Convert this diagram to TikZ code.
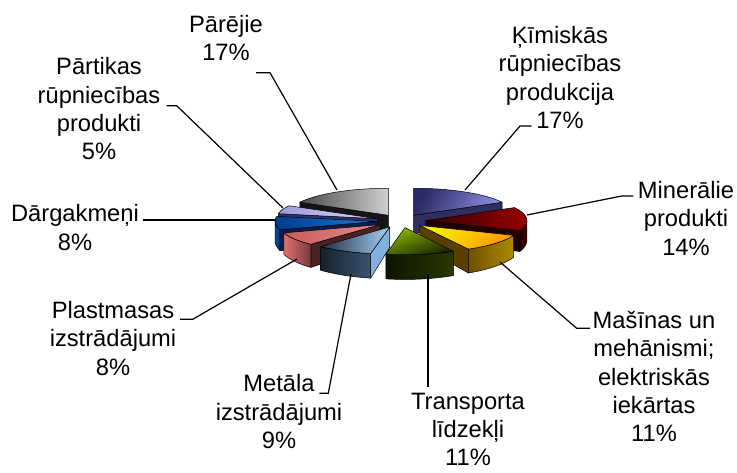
\documentclass[tikz,border=0pt]{standalone}
\usepackage{fontspec}
\setmainfont{Liberation Sans}
\definecolor{kimA}{HTML}{2B2B66}\definecolor{kimB}{HTML}{8C8CE0}\definecolor{kimS}{HTML}{3A3A70}\definecolor{kimR}{HTML}{2E2E60}
\definecolor{parA}{HTML}{4A4A4A}\definecolor{parB}{HTML}{CFCFCF}\definecolor{parS}{HTML}{1A1A1A}\definecolor{parR}{HTML}{151515}
\definecolor{ptkA}{HTML}{9A9AD8}\definecolor{ptkB}{HTML}{DADAFF}\definecolor{ptkS}{HTML}{505090}\definecolor{ptkR}{HTML}{303070}
\definecolor{minA}{HTML}{3A0000}\definecolor{minB}{HTML}{960000}\definecolor{minS}{HTML}{120000}\definecolor{minT}{HTML}{5A0000}\definecolor{minR}{HTML}{200000}
\definecolor{darA}{HTML}{003C8C}\definecolor{darB}{HTML}{1A7AE0}\definecolor{darS}{HTML}{0058B8}\definecolor{darT}{HTML}{002A66}\definecolor{darR}{HTML}{002050}
\definecolor{plaA}{HTML}{C85C5C}\definecolor{plaB}{HTML}{E88A8A}\definecolor{plaS}{HTML}{E07070}\definecolor{plaT}{HTML}{7A3A3A}\definecolor{plaR}{HTML}{4A2222}
\definecolor{masA}{HTML}{F8F000}\definecolor{masB}{HTML}{FF9900}\definecolor{masS}{HTML}{6E5000}\definecolor{masT}{HTML}{B08A00}\definecolor{masR}{HTML}{5A4000}
\definecolor{metA}{HTML}{1E2C44}\definecolor{metB}{HTML}{A8D0F5}\definecolor{metS}{HTML}{15202E}\definecolor{metT}{HTML}{3A5570}\definecolor{metR}{HTML}{7FB0E0}
\definecolor{traA}{HTML}{88B800}\definecolor{traB}{HTML}{1A2200}\definecolor{traS}{HTML}{0E1400}\definecolor{traT}{HTML}{2A3800}\definecolor{traR}{HTML}{1A2200}
\begin{document}
\begin{tikzpicture}[x=1pt,y=-1pt,
  face/.style={draw=black, line width=0.5pt, line join=round},
  lbl/.style={font=\fontsize{23.7}{28.3}\selectfont, align=center, inner sep=0pt, anchor=north},
  leader/.style={draw=black, line width=1.2pt}]
\useasboundingbox (0,0) rectangle (737,472);
\fill[white] (0,0) rectangle (737,472);
\def\pieR{101}\def\pier{27}\def\pieE{25}\def\pcx{401}\def\pcy{221}
% bottom of a side wall: y' = 1.16 y - 15.92 (deeper towards the front)
\foreach \aS/\aE/\cTa/\cTb/\ang/\cSa/\cSb/\cR in {
  28.8/90/kimA/kimB/60/kimS/kimS/kimR,
  -270/-208.8/parA/parB/90/parS/parS/parR,
  -208.8/-190.8/ptkA/ptkB/90/ptkS/ptkS/ptkR,
  -21.6/28.8/minA/minB/90/minS/minT/minR,
  -190.8/-162/darA/darB/90/darS/darT/darR,
  -162/-133.2/plaA/plaB/90/plaS/plaT/plaR,
  -61.2/-21.6/masA/masB/45/masS/masT/masR,
  -133.2/-100.8/metA/metB/90/metS/metT/metR,
  -100.8/-61.2/traA/traB/20/traS/traT/traR}{
  \pgfmathsetmacro\bis{(\aS+\aE)/2}
  \pgfmathsetmacro\ox{\pcx+\pieE*cos(\bis)}
  \pgfmathsetmacro\oy{\pcy-\pieE*\pier/\pieR*sin(\bis)}
  \pgfmathsetmacro\oyb{1.16*\oy-15.92}
  \pgfmathsetmacro\xs{\ox+\pieR*cos(\aS)}
  \pgfmathsetmacro\ys{\oy-\pier*sin(\aS)}
  \pgfmathsetmacro\ysb{1.16*\ys-15.92}
  \pgfmathsetmacro\xt{\ox+\pieR*cos(\aE)}
  \pgfmathsetmacro\yt{\oy-\pier*sin(\aE)}
  \pgfmathsetmacro\ytb{1.16*\yt-15.92}
  \pgfmathtruncatemacro\vs{cos(\aS)>0.001 ? 1 : 0}
  \pgfmathtruncatemacro\vt{cos(\aE)<-0.001 ? 1 : 0}
  \pgfmathsetmacro\fa{max(\aS,-180)}
  \pgfmathsetmacro\fb{min(\aE,0)}
  \pgfmathtruncatemacro\vf{\fb>\fa+0.01 ? 1 : 0}
  \ifnum\vs=1
    \path[face, fill=\cR] ({\ox},{\oy}) -- ({\xs},{\ys}) -- ({\xs},{\ysb}) -- ({\ox},{\oyb}) -- cycle;
  \fi
  \ifnum\vt=1
    \path[face, fill=\cR] ({\ox},{\oy}) -- ({\xt},{\yt}) -- ({\xt},{\ytb}) -- ({\ox},{\oyb}) -- cycle;
  \fi
  \ifnum\vf=1
    \path[face, left color=\cSa, right color=\cSb]
      plot[domain=\fa:\fb, samples=30] ({\ox+\pieR*cos(\x)},{\oy-\pier*sin(\x)})
      -- plot[domain=\fb:\fa, samples=30] ({\ox+\pieR*cos(\x)},{1.16*(\oy-\pier*sin(\x))-15.92}) -- cycle;
  \fi
  \path[face, top color=\cTa, bottom color=\cTb, shading angle=\ang]
    ({\ox},{\oy}) -- plot[domain=\aS:\aE, samples=30] ({\ox+\pieR*cos(\x)},{\oy-\pier*sin(\x)}) -- cycle;
}
\node[lbl] (parejie) at (226,12.5) {\strut Pārējie\\\strut 17\%};
\node[lbl] (partikas) at (99,54.7) {\strut Pārtikas\\\strut rūpniecības\\\strut produkti\\\strut 5\%};
\node[lbl] (dargakmeni) at (75,201.9) {\strut Dārgakmeņi\\\strut 8\%};
\node[lbl] (plastmasas) at (113,298.5) {\strut Plastmasas\\\strut izstrādājumi\\\strut 8\%};
\node[lbl] (metala) at (279,371.9) {\strut Metāla\\\strut izstrādājumi\\\strut 9\%};
\node[lbl] (transporta) at (468,389) {\strut Transporta\\\strut līdzekļi\\11\%};
\node[lbl] (masinas) at (654,308.5) {\strut Mašīnas un\\\strut mehānismi;\\\strut elektriskās\\\strut iekārtas\\\strut 11\%};
\node[lbl] (kimiskas) at (560,23.5) {\strut Ķīmiskās\\\strut rūpniecības\\\strut produkcija\\\strut 17\%};
\node[lbl] (minerali) at (686,178.5) {\strut Minerālie\\\strut produkti\\\strut 14\%};
\coordinate (parA) at (256,72.7);\coordinate (parB) at (270,72.7);\coordinate (parC) at (337,190);
\coordinate (ptkA) at (166.7,105.7);\coordinate (ptkB) at (176.7,105.7);\coordinate (ptkC) at (283,208);
\coordinate (darA) at (143,220);\coordinate (darC) at (276,220);
\coordinate (plaA) at (180,319.3);\coordinate (plaB) at (192.7,319.3);\coordinate (plaC) at (297,259);
\coordinate (metA) at (319.3,393.3);\coordinate (metB) at (328.3,393.3);\coordinate (metC) at (351,274);
\coordinate (traA) at (428,387);\coordinate (traC) at (428,274);
\coordinate (masA) at (590,328.3);\coordinate (masB) at (576.7,328.3);\coordinate (masC) at (500,262);
\coordinate (kimA) at (531.7,126);\coordinate (kimB) at (520,126);\coordinate (kimC) at (465,190);
\coordinate (minA) at (633.3,196);\coordinate (minB) at (621.7,196);\coordinate (minC) at (527,215);
\draw[leader] (parA) -- (parB) -- (parC);
\draw[leader] (ptkA) -- (ptkB) -- (ptkC);
\draw[leader] (darA) -- (darC);
\draw[leader] (plaA) -- (plaB) -- (plaC);
\draw[leader] (metA) -- (metB) -- (metC);
\draw[leader] (traA) -- (traC);
\draw[leader] (masA) -- (masB) -- (masC);
\draw[leader] (kimA) -- (kimB) -- (kimC);
\draw[leader] (minA) -- (minB) -- (minC);
\end{tikzpicture}
\end{document}
